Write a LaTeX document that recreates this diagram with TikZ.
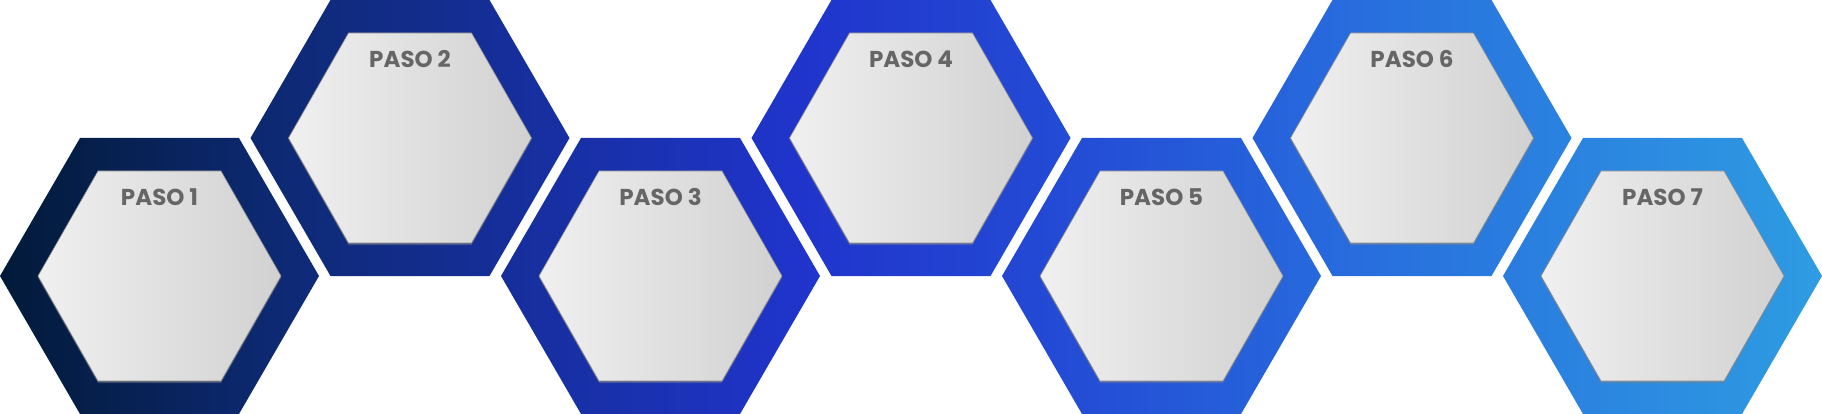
\documentclass[tikz,border=0pt]{standalone}
\usepackage{fontspec}
\setmainfont{Poppins}
\usetikzlibrary{shadows}
\definecolor{c0}{RGB}{2,26,56}
\definecolor{c1}{RGB}{14,42,118}
\definecolor{c2}{RGB}{32,52,204}
\definecolor{c3}{RGB}{36,78,214}
\definecolor{c4}{RGB}{40,112,222}
\definecolor{c5}{RGB}{46,156,226}
\definecolor{lbl}{RGB}{102,102,102}
\pgfdeclarehorizontalshading{blues}{100bp}{%
 color(0bp)=(c0); color(25bp)=(c0); color(33bp)=(c1); color(47bp)=(c2);
 color(55bp)=(c3); color(63bp)=(c4); color(75bp)=(c5); color(100bp)=(c5)}
\tikzset{
 inner/.style={left color=gray!12, right color=gray!36, draw=black!45, line width=0.6pt,
   drop shadow={opacity=0.45, shadow xshift=0pt, shadow yshift=-2pt}},
 lab/.style={font=\bfseries\fontsize{23}{23}\selectfont, text=lbl, inner sep=0pt}
}
\newcommand{\outerhex}[2]{(#1-159.5,#2) -- (#1-79.5,#2-138) -- (#1+79.5,#2-138) -- (#1+159.5,#2) -- (#1+79.5,#2+138) -- (#1-79.5,#2+138) -- cycle}
\begin{document}
\begin{tikzpicture}[x=1pt,y=-1pt]
\useasboundingbox (0,0) rectangle (1822,414);
\begin{scope}
\clip \outerhex{159.5}{276} \outerhex{410}{138} \outerhex{660.5}{276} \outerhex{911}{138}
      \outerhex{1161.5}{276} \outerhex{1412}{138} \outerhex{1662.5}{276};
\shade[shading=blues] (0,0) rectangle (1822,414);
\end{scope}
\foreach \i/\cx/\cy in {1/159.5/276, 2/410/138, 3/660.5/276, 4/911/138, 5/1161.5/276, 6/1412/138, 7/1662.5/276}{
  \path[inner] (\cx-121.5,\cy) -- (\cx-61.5,\cy-105) -- (\cx+61.5,\cy-105) -- (\cx+121.5,\cy) -- (\cx+61.5,\cy+105) -- (\cx-61.5,\cy+105) -- cycle;
  \node[lab] (p\i) at (\cx,\cy-79) {PASO \i};
}
\end{tikzpicture}
\end{document}
